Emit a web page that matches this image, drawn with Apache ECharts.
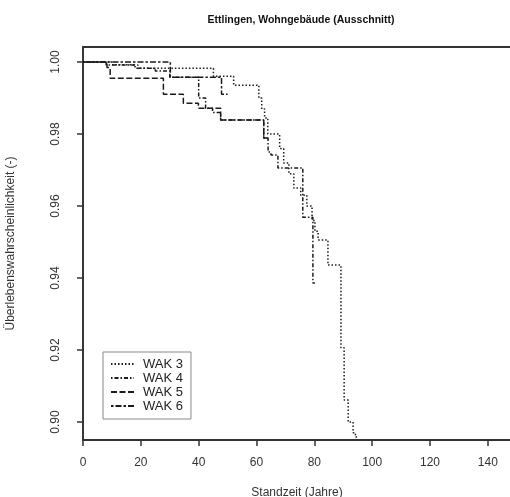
<!DOCTYPE html>
<html>
<head>
<meta charset="utf-8">
<script src="https://cdn.jsdelivr.net/npm/echarts@6/dist/echarts.min.js"></script>
<style>html,body{margin:0;padding:0;background:#fff}#c{width:510px;height:497px}</style>
</head>
<body>
<div id="c"></div>
<script>
// ---- data (years, survival probability) ----
const seriesNames = ['WAK 3', 'WAK 4', 'WAK 5', 'WAK 6'];
const wak3Years  = [0, 10, 18, 45.1, 52.1, 60.8, 61.8, 62.8, 63.9, 68.0, 69.4, 71.2, 72.9, 75.3, 77.4, 79.2, 80.2, 81.3, 84.7, 89.2, 90.3, 91.7, 93.4, 94.2, 94.8];
const wak3Values = [1, 0.9993, 0.9983, 0.9961, 0.9936, 0.9900, 0.9870, 0.9845, 0.9800, 0.9760, 0.9720, 0.9690, 0.9650, 0.9630, 0.9600, 0.9560, 0.9530, 0.9506, 0.9436, 0.9206, 0.9061, 0.9000, 0.8970, 0.8958, 0.8958];
const wak4Years  = [0, 8, 19, 25, 30, 40, 42.4, 44.8, 47.6, 62.5, 64.0, 65.0, 67.4, 76.0, 79.5, 80.2];
const wak4Values = [1, 0.9992, 0.9983, 0.9975, 0.9958, 0.9900, 0.9872, 0.9860, 0.9839, 0.9789, 0.9750, 0.9742, 0.9706, 0.9569, 0.9386, 0.9386];
const wak5Years  = [0, 8.3, 9.4, 27.8, 34.7, 39.9, 47.6, 62.5, 64.5];
const wak5Values = [1, 0.9985, 0.9955, 0.9911, 0.9886, 0.9872, 0.9839, 0.9789, 0.9789];
const wak6Years  = [0, 30.2, 47.9, 50.0];
const wak6Values = [1, 0.9958, 0.9911, 0.9911];
const xTicks = [0, 20, 40, 60, 80, 100, 120, 140];
const yTicks = [0.90, 0.92, 0.94, 0.96, 0.98, 1.00];

const pairs = (xs, ys) => xs.map((x, i) => [x, ys[i]]);
const allData = [pairs(wak3Years, wak3Values), pairs(wak4Years, wak4Values), pairs(wak5Years, wak5Values), pairs(wak6Years, wak6Values)];
const dashes = [[1.5, 2], [1.5, 2, 4, 2], [6, 2.5], [2.5, 2, 6, 2]];

const FONT = 'Liberation Sans, Arial, sans-serif';
const chart = echarts.init(document.getElementById('c'), null, {renderer: 'canvas'});
chart.setOption({
  animation: false,
  backgroundColor: '#fff',
  title: {
    text: 'Ettlingen, Wohngebäude (Ausschnitt)',
    left: 296, top: 10, textAlign: 'center',
    textStyle: {fontFamily: FONT, fontSize: 10.5, fontWeight: 'bold', color: '#111'}
  },
  grid: {left: 83, top: 47, right: -1, bottom: 57, show: true, borderColor: '#333', borderWidth: 1.8,
    backgroundColor: 'transparent', outerBoundsMode: 'none', containLabel: false},
  legend: {
    data: seriesNames,
    left: 103, top: 352, orient: 'vertical',
    itemWidth: 23, itemHeight: 10, itemGap: 0,
    borderColor: '#888', borderWidth: 1, borderRadius: 0,
    padding: [5, 8, 6, 7],
    textStyle: {fontFamily: FONT, fontSize: 13, color: '#222', lineHeight: 14, padding: [0, 0, 0, 4]},
    itemStyle: {opacity: 0}
  },
  xAxis: {
    type: 'value', min: 0, max: 148,
    name: 'Standzeit (Jahre)', nameLocation: 'middle', nameGap: 47,
    nameTextStyle: {fontFamily: FONT, fontSize: 12, color: '#333'},
    axisLine: {show: true, lineStyle: {color: '#333', width: 1.5}},
    axisTick: {show: true, length: 6, inside: false, customValues: xTicks, lineStyle: {color: '#333', width: 1.5}},
    axisLabel: {customValues: xTicks, margin: 17, fontFamily: FONT, fontSize: 12, color: '#333'},
    splitLine: {show: false}
  },
  yAxis: {
    type: 'value', min: 0.895, max: 1.0042,
    name: 'Überlebenswahrscheinlichkeit (-)', nameLocation: 'middle', nameGap: 66, nameRotate: 90,
    nameTextStyle: {fontFamily: FONT, fontSize: 12, color: '#333'},
    axisLine: {show: true, lineStyle: {color: '#333', width: 1.5}},
    axisTick: {show: true, length: 6, customValues: yTicks, lineStyle: {color: '#333', width: 1.5}},
    axisLabel: {customValues: yTicks, rotate: 90, margin: 21, fontFamily: FONT, fontSize: 12, color: '#333',
      formatter: v => v.toFixed(2)},
    splitLine: {show: false}
  },
  series: seriesNames.map((n, i) => ({
    name: n, type: 'line', step: 'end', symbol: 'none', data: allData[i],
    lineStyle: {color: '#1a1a1a', width: 1.5, type: dashes[i]},
    itemStyle: {color: '#1a1a1a'}
  }))
});
</script>
</body>
</html>
